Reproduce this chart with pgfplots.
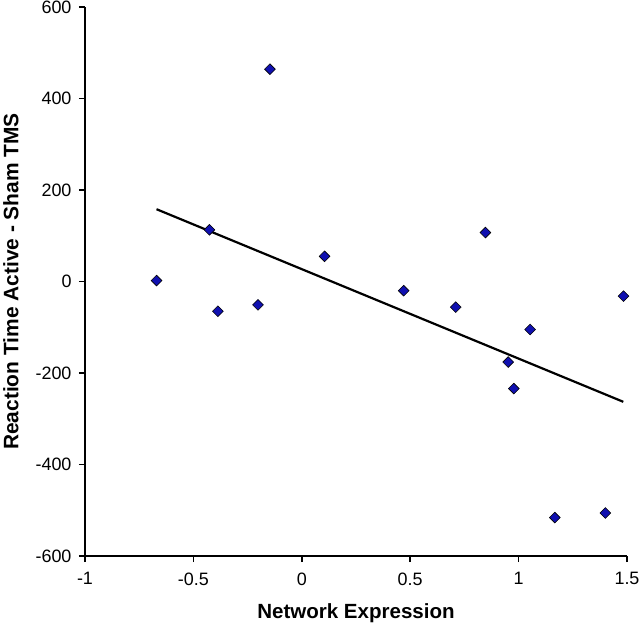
\documentclass[border=0pt]{standalone}
\usepackage{fontspec}
\setmainfont{Liberation Sans}
\usepackage{pgfplots}
\pgfplotsset{compat=1.18}
\definecolor{markblue}{RGB}{16,16,176}
\begin{document}
\begin{tikzpicture}
\path[use as bounding box] (-85bp,-67bp) rectangle (555bp,556bp);
\begin{axis}[
  scale only axis,
  width=542bp, height=549bp,
  at={(0,0)}, anchor=south west,
  xmin=-1, xmax=1.5, ymin=-600, ymax=600,
  axis x line=bottom, axis y line=left,
  axis line style={-, line width=2bp, black},
  xtick={-1,-0.5,0,0.5,1,1.5},
  ytick={-600,-400,-200,0,200,400,600},
  tick align=outside,
  major tick length=6bp,
  every tick/.style={black, line width=1.5bp},
  /pgf/number format/assume math mode=true,
  xticklabel={\fontsize{18}{20}\selectfont\pgfmathprintnumber{\tick}},
  yticklabel={\fontsize{18}{20}\selectfont\pgfmathprintnumber{\tick}},
  xticklabel style={yshift=-7bp},
  yticklabel style={xshift=-4bp},
  every axis x label/.style={at={(rel axis cs:0.5,0)}, anchor=base, yshift=-62bp, font=\fontsize{20.6}{22}\selectfont\bfseries},
  every axis y label/.style={at={(rel axis cs:0,0.5)}, xshift=-74bp, anchor=center, rotate=90, font=\fontsize{21}{22}\selectfont\bfseries},
  xlabel={Network Expression},
  ylabel={Reaction Time Active - Sham TMS},
  clip=false,
]
\addplot[only marks, mark=square*, mark size=3.8bp,
  mark options={fill=markblue, draw=black, line width=0.6bp, rotate=45}]
  coordinates {
  (-0.670,2) (-0.426,113) (-0.387,-65) (-0.202,-51) (-0.147,464)
  (0.105,55) (0.470,-20) (0.710,-56) (0.847,107) (0.952,-176)
  (0.978,-234) (1.053,-105) (1.167,-516) (1.400,-506) (1.484,-32)
  };
\addplot[black, line width=2.2bp, no marks]
  coordinates {(-0.670,158) (1.483,-263)};
\end{axis}
\end{tikzpicture}
\end{document}
